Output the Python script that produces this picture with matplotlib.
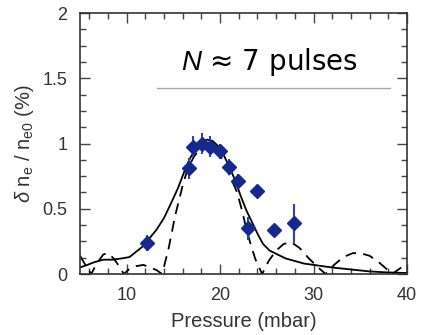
import matplotlib
matplotlib.use("Agg")
import matplotlib.pyplot as plt
from matplotlib.ticker import MultipleLocator, AutoMinorLocator
from matplotlib.lines import Line2D

plt.rcParams['font.family'] = ['Liberation Sans', 'DejaVu Sans']
plt.rcParams['mathtext.fontset'] = 'custom'
plt.rcParams['mathtext.rm'] = 'Liberation Sans'
plt.rcParams['mathtext.it'] = 'Liberation Sans:italic'

# measured data points (pressure in mbar, delta n_e / n_e0 in %)
pressure = [12.2, 16.7, 17.1, 18.1, 18.9, 20.0, 21.0, 21.9, 23.0, 24.0, 25.8, 27.9]
signal = [0.24, 0.81, 0.975, 1.0, 0.975, 0.94, 0.82, 0.71, 0.35, 0.64, 0.34, 0.39]
signal_err = [0.06, 0.08, 0.08, 0.08, 0.08, 0.06, 0.06, 0.06, 0.09, 0.0, 0.0, 0.15]

# solid model curve
solid_x = [5.0, 5.8, 6.5, 7.5, 8.5, 9.5, 10.3, 11.0, 11.7, 12.4, 13.2, 14.0, 14.8,
           15.5, 16.2, 16.8, 17.4, 18.0, 18.6, 19.2, 19.8, 20.4, 21.0, 21.6, 22.2,
           22.8, 23.4, 24.0, 24.6, 25.3, 26.0, 27.0, 28.0, 29.0, 30.0, 32.0, 34.0,
           36.0, 38.0, 40.0]
solid_y = [0.05, 0.07, 0.09, 0.11, 0.11, 0.12, 0.13, 0.17, 0.21, 0.27, 0.34, 0.43, 0.55,
           0.66, 0.79, 0.89, 0.96, 1.01, 1.03, 1.02, 0.98, 0.91, 0.82, 0.72, 0.60,
           0.49, 0.40, 0.31, 0.23, 0.18, 0.155, 0.12, 0.10, 0.08, 0.07, 0.05, 0.035,
           0.02, 0.012, 0.008]

# dashed model curve
dashed_x = [5.0, 5.5, 6.2, 6.8, 7.5, 8.0, 8.6, 9.2, 9.7, 10.3, 11.0, 11.8, 12.5, 13.2,
            13.8, 14.5, 15.2, 16.0, 16.5, 17.2, 18.0, 18.7, 19.4, 20.2, 21.0, 21.8,
            22.3, 22.8, 23.3, 23.8, 24.5, 25.2, 26.0, 26.8, 27.6, 28.5, 29.5, 30.5,
            31.3, 32.2, 33.2, 34.2, 35.0, 36.0, 37.0, 37.8, 38.4, 39.2, 40.0]
dashed_y = [0.14, 0.08, 0.0, 0.08, 0.15, 0.16, 0.12, 0.06, 0.0, 0.04, 0.06, 0.07, 0.05, 0.03,
            0.0, 0.2, 0.45, 0.68, 0.80, 0.90, 0.97, 1.0, 0.97, 0.88, 0.76, 0.63,
            0.50, 0.35, 0.22, 0.11, 0.0, 0.10, 0.18, 0.23, 0.245, 0.20, 0.12, 0.05,
            0.0, 0.07, 0.13, 0.16, 0.16, 0.14, 0.09, 0.04, 0.0, 0.04, 0.08]

fig = plt.figure(figsize=(4.23, 3.35), dpi=100)
ax = fig.add_axes([0.189, 0.182, 0.773, 0.779])

ax.plot(solid_x, solid_y, color='black', lw=1.3)
ax.plot(dashed_x, dashed_y, color='black', lw=1.3, ls=(0, (6, 4)))
ax.errorbar(pressure, signal, yerr=signal_err, fmt='D', color='#14288f',
            ecolor='#2a45b0', elinewidth=1.5, capsize=0, markersize=7.5, zorder=5)

ax.set_xlim(5, 40)
ax.set_ylim(0, 2)
ax.xaxis.set_major_locator(MultipleLocator(10))
ax.xaxis.set_minor_locator(MultipleLocator(2))
ax.yaxis.set_major_locator(MultipleLocator(0.5))
ax.yaxis.set_minor_locator(AutoMinorLocator(4))
ax.set_yticks([0, 0.5, 1, 1.5, 2])
ax.set_yticklabels(['0', '0.5', '1', '1.5', '2'])
ax.tick_params(which='both', direction='in', top=True, right=True, labelsize=13,
               color='#444444', width=1)
ax.tick_params(which='major', length=7)
ax.tick_params(which='minor', length=4)
ax.tick_params(axis='y', pad=9)
ax.tick_params(axis='x', pad=9)
for s in ax.spines.values():
    s.set_color('#333333')
    s.set_linewidth(1.2)

ax.set_xlabel('Pressure (mbar)', fontsize=14.5, color='#333333', labelpad=6)
ax.set_ylabel(r'$\delta$ n$_\mathrm{e}$ / n$_\mathrm{e0}$ (%)', fontsize=14.5,
              color='#333333', labelpad=5)
for lbl in ax.get_xticklabels() + ax.get_yticklabels():
    lbl.set_color('#333333')

fig.text(0.428, 0.79, r'$N$ ≈ 7 pulses', fontsize=20, family=['DejaVu Sans'],
         color='black', ha='left', va='baseline')
fig.add_artist(Line2D([0.371, 0.922], [0.738, 0.738], color='#aaaaaa', lw=1))

fig.savefig('out.png', dpi=100)
